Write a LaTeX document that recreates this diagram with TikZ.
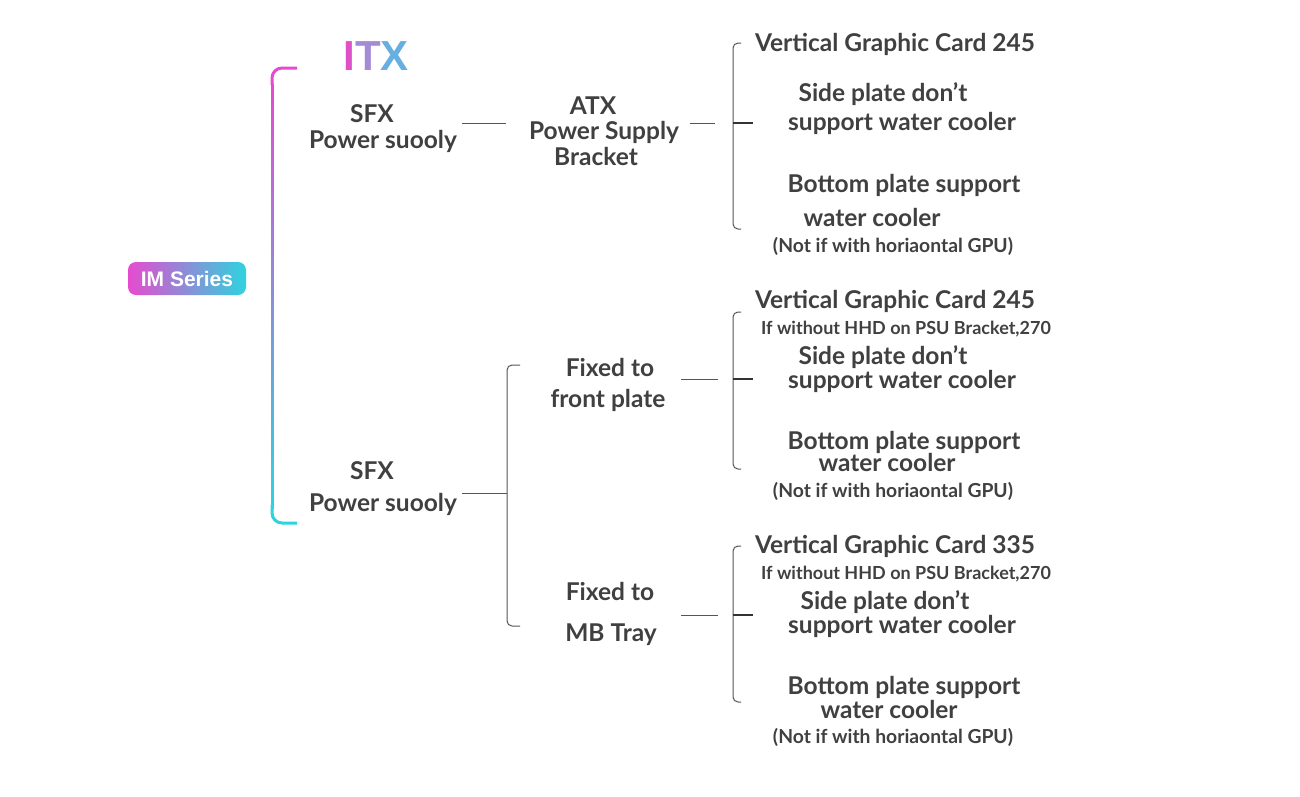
\documentclass[tikz,border=0pt]{standalone}
\usepackage{fontspec}
\setmainfont{Lato}
\newfontfamily\arialfont{Liberation Sans}
\definecolor{mag}{HTML}{E64BCF}
\definecolor{cya}{HTML}{2ED3DF}
\definecolor{txt}{HTML}{404040}
\definecolor{ln}{HTML}{555555}
\definecolor{itxI}{HTML}{DE52C9}
\definecolor{itxT}{HTML}{A58BD6}
\definecolor{itxX}{HTML}{66AFE0}
\begin{document}
\begin{tikzpicture}[x=1pt,y=-1pt,
  lbl/.style={anchor=base,inner sep=0pt,text=txt,font=\bfseries\fontsize{24.5}{28}\selectfont},
  sml/.style={anchor=base,inner sep=0pt,text=txt,font=\bfseries\fontsize{18}{21}\selectfont},
  note/.style={anchor=base,inner sep=0pt,text=txt,font=\bfseries\fontsize{19.3}{22}\selectfont},
  conn/.style={draw=ln,line width=1pt},
  brace/.style={draw=ln,line width=1pt,rounded corners=5pt},
  tick/.style={draw=black!80,line width=2pt}]
\useasboundingbox[fill=white] (0,0) rectangle (1300,796);

% root
\node[rounded corners=8pt,left color=mag,right color=cya,minimum width=118pt,minimum height=33pt,
  inner sep=0pt,text=white,font=\arialfont\bfseries\fontsize{21}{21}\selectfont] (im) at (187,278.5) {IM Series};

% ITX title
\node[inner sep=0pt,anchor=base,font=\arialfont\bfseries\fontsize{42}{42}\selectfont] (itx) at (376,70)
  {\textcolor{itxI}{I}\textcolor{itxT}{T}\textcolor{itxX}{X}};

% gradient bracket
\draw[line width=3pt,mag,rounded corners=10pt] (297,68) -- (272,68) -- (272,85);
\foreach \i in {0,...,84}{
  \pgfmathsetmacro\p{100*\i/84}
  \draw[line width=3pt,color=cya!\p!mag] (272,{84+\i*5-0.3}) -- (272,{89+\i*5+0.3});
}
\draw[line width=3pt,cya,rounded corners=10pt] (272,505) -- (272,523) -- (297,523);

% ---------- top branch ----------
\node[lbl] (sfxA) at (372,122) {SFX};
\node[lbl] (pwA) at (383,148) {Power suooly};
\node[lbl] (atx) at (593,114) {ATX};
\node[lbl] (psu) at (604,139) {Power Supply};
\node[lbl] (brk) at (596,165) {Bracket};
\coordinate (a1) at (462,123); \coordinate (a2) at (506,123);
\draw[conn] (a1) -- (a2);
\coordinate (a3) at (690,123); \coordinate (a4) at (715,123);
\draw[conn] (a3) -- (a4);
\coordinate (b1t) at (741,43); \coordinate (b1b) at (741,229);
\draw[brace] (b1t) -- (733,43) -- (733,229) -- (b1b);
\coordinate (b1m) at (733,123); \coordinate (b1e) at (753,123);
\draw[tick] (b1m) -- (b1e);

\node[lbl] (t1a) at (895,51) {Vertical Graphic Card 245};
\node[lbl] (t1b) at (883,101) {Side plate don't};
\node[lbl] (t1c) at (902,130) {support water cooler};
\node[lbl] (t1d) at (904,192) {Bottom plate support};
\node[lbl] (t1e) at (872,226) {water cooler};
\node[note] (t1f) at (893,252) {(Not if with horiaontal GPU)};

% ---------- lower branch ----------
\node[lbl] (sfxB) at (372,479) {SFX};
\node[lbl] (pwB) at (383,511) {Power suooly};
\coordinate (c1) at (462,493); \coordinate (c2) at (507,493);
\draw[conn] (c1) -- (c2);
\coordinate (b4t) at (520,365); \coordinate (b4b) at (520,626);
\draw[brace] (b4t) -- (507,365) -- (507,626) -- (b4b);

\node[lbl] (fx1) at (610,376) {Fixed to};
\node[lbl] (fp) at (608,407) {front plate};
\coordinate (d1) at (681,379); \coordinate (d2) at (718,379);
\draw[conn] (d1) -- (d2);
\coordinate (b2t) at (741,312); \coordinate (b2b) at (741,469);
\draw[brace] (b2t) -- (733,312) -- (733,469) -- (b2b);
\coordinate (b2m) at (733,379); \coordinate (b2e) at (753,379);
\draw[tick] (b2m) -- (b2e);

\node[lbl] (t2a) at (895,308) {Vertical Graphic Card 245};
\node[sml] (t2b) at (906,334) {If without HHD on PSU Bracket,270};
\node[lbl] (t2c) at (883,364.5) {Side plate don't};
\node[lbl] (t2d) at (902,388) {support water cooler};
\node[lbl] (t2e) at (904,449) {Bottom plate support};
\node[lbl] (t2f) at (887,471) {water cooler};
\node[note] (t2g) at (893,497) {(Not if with horiaontal GPU)};

\node[lbl] (fx2) at (610,600) {Fixed to};
\node[lbl] (mb) at (611,641) {MB Tray};
\coordinate (e1) at (681,615); \coordinate (e2) at (718,615);
\draw[conn] (e1) -- (e2);
\coordinate (b3t) at (741,546); \coordinate (b3b) at (741,702);
\draw[brace] (b3t) -- (733,546) -- (733,702) -- (b3b);
\coordinate (b3m) at (733,615); \coordinate (b3e) at (753,615);
\draw[tick] (b3m) -- (b3e);

\node[lbl] (t3a) at (895,553) {Vertical Graphic Card 335};
\node[sml] (t3b) at (906,579) {If without HHD on PSU Bracket,270};
\node[lbl] (t3c) at (885,609.5) {Side plate don't};
\node[lbl] (t3d) at (902,633) {support water cooler};
\node[lbl] (t3e) at (904,694) {Bottom plate support};
\node[lbl] (t3f) at (889,718) {water cooler};
\node[note] (t3g) at (893,743) {(Not if with horiaontal GPU)};
\end{tikzpicture}
\end{document}
